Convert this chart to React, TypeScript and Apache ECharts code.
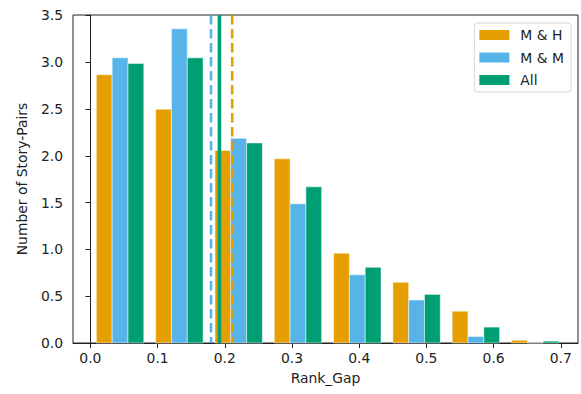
import React, { useEffect, useRef } from "react";
import * as echarts from "echarts";

const seriesNames = ["M & H", "M & M", "All"];
const seriesColors = ["#E69F00", "#56B4E9", "#009E73"];
const binEdges = [0, 0.0883, 0.1765, 0.2648, 0.353, 0.4413, 0.5295, 0.6178, 0.706];
const mhValues = [2.87, 2.5, 2.06, 1.97, 0.96, 0.65, 0.34, 0.03];
const mmValues = [3.05, 3.36, 2.19, 1.49, 0.73, 0.46, 0.07, 0.0];
const allValues = [2.99, 3.05, 2.14, 1.67, 0.81, 0.52, 0.17, 0.02];
const meanValues = [0.211, 0.1795, 0.192];
const meanDashed = [true, true, false];
const xTickValues = [0, 0.1, 0.2, 0.3, 0.4, 0.5, 0.6, 0.7];
const xLabel = "Rank_Gap";
const yLabel = "Number of Story-Pairs";

const FONT = "DejaVu Sans";
const FS = 13.9;

export default function App() {
  const ref = useRef<HTMLDivElement>(null);
  useEffect(() => {
    if (!ref.current) return;
    const chart = echarts.init(ref.current, undefined, { renderer: "svg" });
    const allSeriesValues = [mhValues, mmValues, allValues];
    const nGroups = allSeriesValues.length;
    const barSeries = allSeriesValues.map((vals, k) => ({
      type: "custom",
      name: seriesNames[k],
      itemStyle: { color: seriesColors[k] },
      encode: { x: [0, 1], y: 2 },
      data: vals.map((v, i) => [binEdges[i], binEdges[i + 1], v]),
      renderItem: (params: any, api: any) => {
        const s = api.value(0);
        const e = api.value(1);
        const v = api.value(2);
        const w = e - s;
        const x0 = s + w * (0.1 + (0.8 * k) / nGroups);
        const x1 = x0 + (w * 0.8) / nGroups;
        const p0 = api.coord([x0, v]);
        const p1 = api.coord([x1, 0]);
        return {
          type: "rect",
          shape: { x: p0[0], y: p0[1], width: p1[0] - p0[0], height: p1[1] - p0[1] },
          style: { fill: seriesColors[k], stroke: "#ffffff", lineWidth: 0.5 },
        };
      },
    }));
    const lineSeries = {
      type: "custom",
      name: "means",
      silent: true,
      encode: { x: 0 },
      data: meanValues.map((m, i) => [m, i]),
      z: 5,
      renderItem: (params: any, api: any) => {
        const m = api.value(0);
        const i = api.value(1);
        const cs = params.coordSys;
        const px = api.coord([m, 0])[0];
        return {
          type: "line",
          shape: { x1: px, y1: cs.y, x2: px, y2: cs.y + cs.height },
          style: {
            stroke: seriesColors[i],
            lineWidth: meanDashed[i] ? 2.6 : 3.6,
            lineDash: meanDashed[i] ? [9.5, 4.5] : null,
          },
        };
      },
    };
    chart.setOption({
      animation: false,
      textStyle: { fontFamily: FONT },
      grid: {
        left: 73,
        right: 3,
        top: 15,
        bottom: 51,
        show: true,
        borderColor: "#222",
        borderWidth: 1,
        backgroundColor: "transparent",
      },
      legend: {
        orient: "vertical",
        right: 10,
        top: 23,
        data: seriesNames.map((n) => ({ name: n, icon: "rect" })),
        itemWidth: 30,
        itemHeight: 10,
        itemGap: 8.5,
        padding: [5, 7, 5, 5],
        borderColor: "#d6d6d6",
        borderWidth: 1,
        borderRadius: 3,
        backgroundColor: "#fff",
        textStyle: { fontFamily: FONT, fontSize: FS, color: "#222", padding: [0, 0, 0, 6] },
      },
      xAxis: {
        type: "value",
        min: -0.0259,
        max: 0.7256,
        name: xLabel,
        nameLocation: "middle",
        nameGap: 28,
        nameTextStyle: { fontFamily: FONT, fontSize: FS, color: "#222" },
        splitLine: { show: false },
        axisLine: { show: true, lineStyle: { color: "#222", width: 1 } },
        axisTick: {
          show: true,
          length: 5,
          lineStyle: { color: "#222" },
          customValues: xTickValues,
        },
        axisLabel: {
          fontFamily: FONT,
          fontSize: FS,
          color: "#222",
          margin: 8,
          customValues: xTickValues,
          formatter: (v: number) => v.toFixed(1),
        },
      },
      yAxis: {
        type: "value",
        min: 0,
        max: 3.508,
        interval: 0.5,
        name: yLabel,
        nameLocation: "middle",
        nameGap: 44,
        nameTextStyle: { fontFamily: FONT, fontSize: FS, color: "#222" },
        splitLine: { show: false },
        axisLine: { show: true, lineStyle: { color: "#222", width: 1 } },
        axisTick: { show: true, length: 5, lineStyle: { color: "#222" } },
        axisLabel: {
          fontFamily: FONT,
          fontSize: FS,
          color: "#222",
          margin: 10,
          showMaxLabel: true,
          formatter: (v: number) => v.toFixed(1),
        },
      },
      series: [...barSeries, lineSeries],
    });
    return () => chart.dispose();
  }, []);
  return <div ref={ref} style={{ width: 581, height: 394, position: "absolute", left: 0, top: 0 }} />;
}
